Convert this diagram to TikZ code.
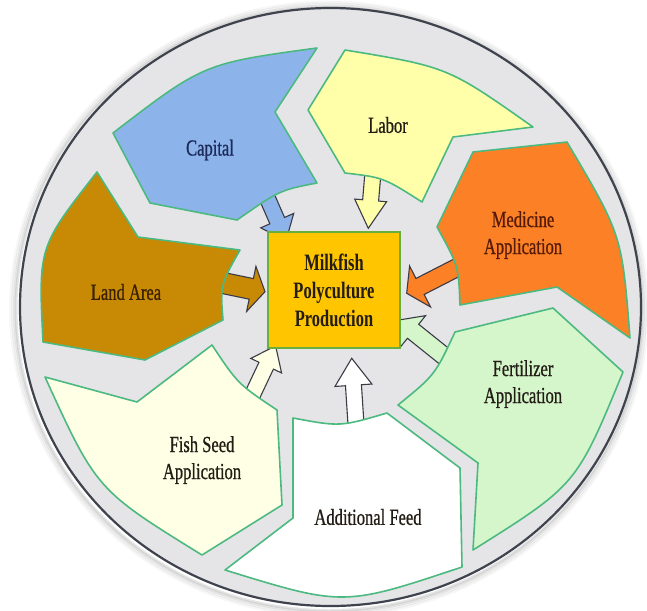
\documentclass[tikz,border=0pt]{standalone}
\usepackage{fontspec}
\setmainfont{Liberation Serif}
\newfontfamily\lblfont[FakeStretch=0.72, FakeBold=0.7]{Liberation Serif}
\newfontfamily\corefont[FakeStretch=0.70]{Liberation Serif}
\usetikzlibrary{calc}

\definecolor{ringgray}{HTML}{E5E5E8}
\definecolor{ringline}{HTML}{3F434D}
\definecolor{segline}{HTML}{4CBA80}
\definecolor{arrowline}{HTML}{3A3B46}
\definecolor{capfill}{HTML}{8DB4EA}
\definecolor{laborfill}{HTML}{FFFFAA}
\definecolor{medfill}{HTML}{FB8026}
\definecolor{fertfill}{HTML}{D5F5CB}
\definecolor{feedfill}{HTML}{FFFFFF}
\definecolor{seedfill}{HTML}{FFFFE6}
\definecolor{landfill}{HTML}{C88905}
\definecolor{boxfill}{HTML}{FFC600}
\definecolor{boxline}{HTML}{6AAF3D}
\definecolor{captext}{HTML}{1C2B5A}
\definecolor{darktext}{HTML}{221C14}
\definecolor{landtext}{HTML}{3A2200}
\definecolor{medtext}{HTML}{561A08}

% block arrow from coordinate (#1-s) to tip (#1-t):
% #2 shaft half width, #3 head half width, #4 head length, #5 fill
\newcommand\flowarrow[5]{%
  \coordinate (#1-b) at ($(#1-t)!#4!(#1-s)$);
  \draw[arrowbody, fill=#5]
    ($(#1-s)!#2!90:(#1-t)$) -- ($(#1-b)!#2!90:(#1-t)$) -- ($(#1-b)!#3!90:(#1-t)$) -- (#1-t)
    -- ($(#1-b)!#3!-90:(#1-t)$) -- ($(#1-b)!#2!-90:(#1-t)$) -- ($(#1-s)!#2!-90:(#1-t)$) -- cycle;}

\begin{document}
\begin{tikzpicture}[x=1pt, y=-1pt,
  seg/.style={draw=segline, line width=1.6pt, line join=round},
  arrowbody/.style={draw=arrowline, line width=1.1pt, line join=miter},
  lbl/.style={font=\lblfont\fontsize{23}{27}\selectfont, align=center, inner sep=0pt, text=darktext},
  corebox/.style={draw=boxline, fill=boxfill, line width=1.5pt, minimum width=132pt,
    minimum height=116pt, inner sep=0pt, align=center, text=darktext,
    font=\corefont\bfseries\fontsize{23.5}{28}\selectfont}]
\useasboundingbox (0,0) rectangle (647,610);

% soft halo around the ring
\foreach \r/\o in {8/0.03,6/0.05,4/0.07,2.5/0.10}{
  \draw[line width=3pt, black, opacity=\o] (329,309) ellipse [x radius={(310.5+\r)*1pt}, y radius={(299+\r)*1pt}];
}
% the ring
\draw[ringline, line width=2.2pt, fill=ringgray] (330.5,307) ellipse [x radius=310.5pt, y radius=299pt];

% block arrows towards the centre
\coordinate (cap-s) at (266,195);     \coordinate (cap-t) at (286,240.8);
\coordinate (lab-s) at (373,172);     \coordinate (lab-t) at (368.3,228.3);
\coordinate (med-s) at (462,265);     \coordinate (med-t) at (406.7,293.3);
\coordinate (land-s) at (218,282);    \coordinate (land-t) at (265,291.7);
\coordinate (fert-s) at (447.4,358.8); \coordinate (fert-t) at (399,320);
\coordinate (feed-s) at (356.5,432);  \coordinate (feed-t) at (351.7,358.3);
\coordinate (seed-s) at (250,400);    \coordinate (seed-t) at (275.6,345.8);

\flowarrow{cap}{8pt}{18pt}{22pt}{capfill}
\flowarrow{lab}{8pt}{16pt}{28pt}{laborfill}
\flowarrow{med}{9pt}{23pt}{15pt}{medfill}
\flowarrow{land}{10.5pt}{23pt}{14pt}{landfill}
\flowarrow{fert}{9pt}{20pt}{18pt}{fertfill}
\flowarrow{feed}{8pt}{18.5pt}{27pt}{feedfill}
\flowarrow{seed}{8pt}{17pt}{22pt}{seedfill}

% ring segments
\path[seg, fill=capfill] (317,48) -- (275,112) -- (317,183)
  .. controls (279.7,190.2) .. (237,220) -- (150,203) -- (113,133)
  .. controls (203.7,63.4) .. (317,48) -- cycle;
\path[seg, fill=laborfill] (345,50) .. controls (447.8,66.9) .. (533,127) -- (453,137) -- (422,202)
  .. controls (383.5,177.5) .. (345,173) -- (308,110) -- cycle;
\path[seg, fill=medfill] (473,152) -- (567,142) .. controls (622,235) .. (630,338)
  -- (557,287) -- (460,305) .. controls (458.5,266) .. (437,227) -- cycle;
\path[seg, fill=fertfill] (455,332) -- (553,308) -- (623,372) .. controls (576.5,485) .. (473,550)
  -- (478,463) -- (398,405) .. controls (434.9,375) .. (455,332) -- cycle;
\path[seg, fill=feedfill] (293,418) .. controls (340,426.8) .. (387,413) -- (460,468) -- (462,567)
  .. controls (343.5,606.5) .. (225,570) -- (293,518) -- cycle;
\path[seg, fill=seedfill] (45,377) -- (137,402) -- (212,345) .. controls (238,384) .. (277,410)
  -- (282,505) -- (202,555) .. controls (96.6,489.9) .. (45,377) -- cycle;
\path[seg, fill=landfill] (97,172) -- (138,237) -- (240,250) .. controls (220.2,285) .. (223,320)
  -- (145,360) -- (43,342) .. controls (38.3,246.9) .. (97,172) -- cycle;

% centre box
\node[corebox] (core) at (334,290) {Milkfish\\Polyculture\\Production};

% segment labels
\node[lbl, text=captext] (capital) at (210,150) {Capital};
\node[lbl] (labor) at (388,125) {Labor};
\node[lbl, text=medtext] (medicine) at (523,235) {Medicine\\Application};
\node[lbl] (fertilizer) at (523,384) {Fertilizer\\Application};
\node[lbl] (feed) at (368,517) {Additional Feed};
\node[lbl] (seed) at (202,460) {Fish Seed\\Application};
\node[lbl, text=landtext] (land) at (126,292) {Land Area};
\end{tikzpicture}
\end{document}
